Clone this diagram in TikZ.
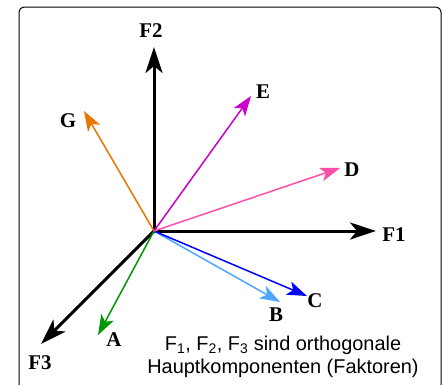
\documentclass[tikz,border=0pt]{standalone}
\usepackage{fontspec}
\setmainfont{Liberation Serif}
\newfontfamily\capfont{Liberation Sans}
\usepackage{xcolor}
\usetikzlibrary{arrows.meta}

\definecolor{colA}{RGB}{0,150,0}
\definecolor{colB}{RGB}{77,166,255}
\definecolor{colC}{RGB}{0,0,255}
\definecolor{colD}{RGB}{255,79,168}
\definecolor{colE}{RGB}{204,0,204}
\definecolor{colG}{RGB}{232,118,0}

\begin{document}
\begin{tikzpicture}[
  x=1bp, y=-1bp,
  axis/.style={-{Stealth[length=26bp,width=17bp,inset=7bp]}, line width=3bp, black},
  vec/.style={-{Stealth[length=20bp,width=14bp,inset=5bp]}, line width=1.5bp},
  lbl/.style={font=\fontsize{21}{23}\selectfont\bfseries, inner sep=0pt},
  caption/.style={font=\capfont\fontsize{20}{23}\selectfont, align=center, inner sep=0pt}
]
\clip (0,0) rectangle (444,384);
\draw[line width=1bp, rounded corners=5bp] (19,420) -- (19,7) -- (441,7) -- (441,420);
\coordinate (O) at (154,231);
% axes
\foreach \name/\tx/\ty/\lx/\ly in {F1/376/231/394/235, F2/154/47/151/31, F3/41/344/40/363}{
  \coordinate (\name-tip) at (\tx,\ty);
  \node[lbl] (\name) at (\lx,\ly) {\name};
  \draw[axis] (O) -- (\name-tip);
}
% variables
\foreach \name/\tx/\ty/\lx/\ly in {A/98/335/114/340, B/280/302/276/315, C/307/296/315/301,
    D/340/168/352/170, E/251/96/263/92, G/84/111/68/121}{
  \coordinate (\name-tip) at (\tx,\ty);
  \node[lbl] (\name) at (\lx,\ly) {\name};
  \draw[vec, col\name] (O) -- (\name-tip);
}
\node[caption] (note) at (283,357) {F\textsubscript{1}, F\textsubscript{2}, F\textsubscript{3} sind orthogonale\\Hauptkomponenten (Faktoren)};
\end{tikzpicture}
\end{document}
